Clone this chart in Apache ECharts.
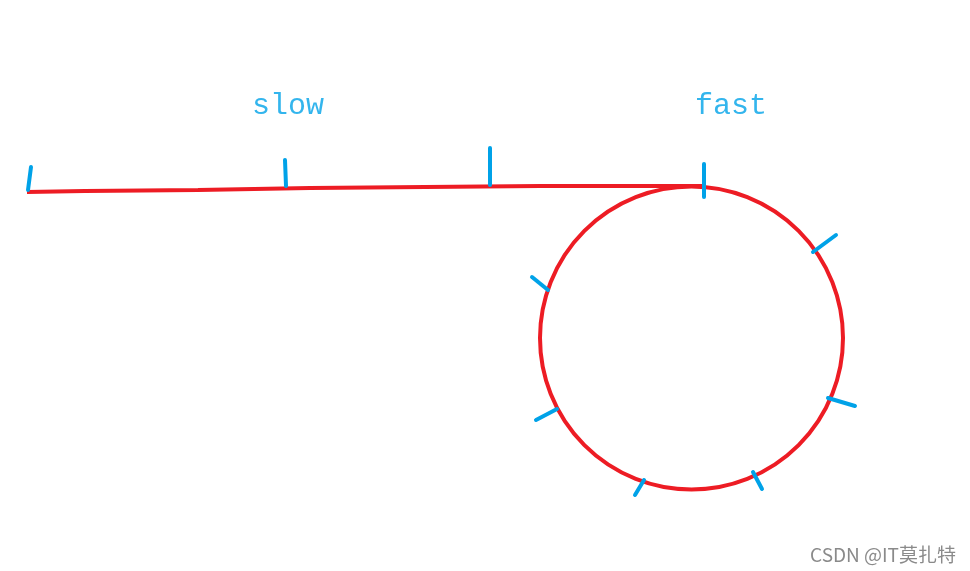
<!DOCTYPE html>
<html>
<head>
<meta charset="utf-8">
<script src="https://cdn.jsdelivr.net/npm/echarts@6/dist/echarts.min.js"></script>
<style>
html,body{margin:0;padding:0;background:#fff;}
#main{width:970px;height:571px;}
</style>
</head>
<body>
<div id="main"></div>
<script>
// Red list path (straight part), in picture coordinates
var pathX = [27, 85, 198, 310, 425, 540, 704];
var pathY = [192, 191, 190, 188, 187, 186, 186];
// Cycle circle: center x, center y, radius
var cycle = [[691.5, 338, 151.5]];
// Blue node marks: x1, y1, x2, y2
var nodeMarks = [
  [28, 190, 31, 167],
  [286, 186, 285, 160],
  [490, 185, 490, 148],
  [704, 197, 704, 164],
  [813, 252, 836, 235],
  [532, 277, 548, 290],
  [828, 398, 855, 406],
  [536, 420, 557, 409],
  [635, 495, 644, 480],
  [753, 472, 762, 489]
];
// Pointer labels
var labelNames = ['slow', 'fast'];
var labelX = [288, 731];
var labelY = [106, 106];
var watermark = 'CSDN @IT莫扎特';

var chart = echarts.init(document.getElementById('main'), null, {renderer: 'canvas'});
var RED = '#ED1C24', BLUE = '#00A2E8';

var pathData = pathX.map(function (x, i) { return [x, pathY[i]]; });
var labelData = labelNames.map(function (n, i) { return {name: n, value: [labelX[i], labelY[i]]}; });

chart.setOption({
  backgroundColor: '#ffffff',
  animation: false,
  grid: {left: 0, right: 0, top: 0, bottom: 0},
  xAxis: {type: 'value', min: 0, max: 970, show: false},
  yAxis: {type: 'value', min: 0, max: 571, inverse: true, show: false},
  series: [
    {
      type: 'line',
      data: pathData,
      showSymbol: false,
      symbol: 'none',
      lineStyle: {color: RED, width: 4},
      z: 2
    },
    {
      type: 'custom',
      data: cycle,
      clip: false,
      renderItem: function (params, api) {
        var c = api.coord([api.value(0), api.value(1)]);
        var r = api.size([api.value(2), 0])[0];
        return {
          type: 'circle',
          shape: {cx: c[0], cy: c[1], r: r},
          style: {fill: 'none', stroke: RED, lineWidth: 4}
        };
      },
      z: 2
    },
    {
      type: 'custom',
      data: nodeMarks,
      clip: false,
      encode: {x: [0, 2], y: [1, 3]},
      renderItem: function (params, api) {
        var p1 = api.coord([api.value(0), api.value(1)]);
        var p2 = api.coord([api.value(2), api.value(3)]);
        return {
          type: 'line',
          shape: {x1: p1[0], y1: p1[1], x2: p2[0], y2: p2[1]},
          style: {stroke: BLUE, lineWidth: 4, lineCap: 'round'}
        };
      },
      z: 3
    },
    {
      type: 'scatter',
      data: labelData,
      symbolSize: 0,
      label: {
        show: true,
        position: 'inside',
        formatter: '{b}',
        color: BLUE,
        fontFamily: 'Liberation Mono',
        fontSize: 30
      },
      z: 4
    }
  ],
  graphic: [{
    type: 'text',
    right: 14,
    bottom: 7,
    style: {
      text: watermark,
      fill: '#8a8a8a',
      font: '19px "Noto Sans CJK SC", "Noto Sans", sans-serif'
    }
  }]
});
</script>
</body>
</html>
